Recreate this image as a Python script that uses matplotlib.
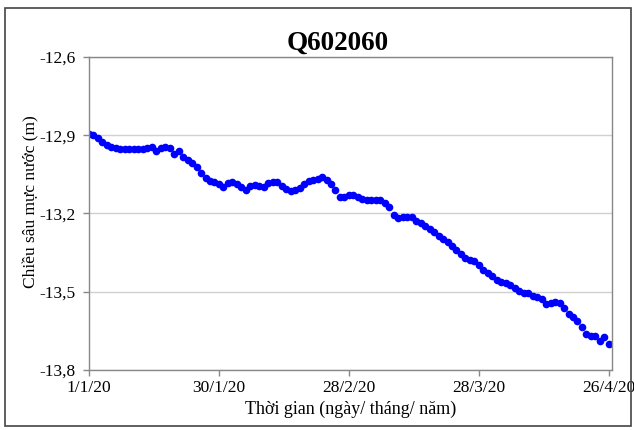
import matplotlib
matplotlib.use("Agg")
import matplotlib.pyplot as plt
import matplotlib.dates as mdates
import datetime as dt
from matplotlib.patches import Rectangle

start_date = dt.date(2020, 1, 1)
depth = [
    -12.895, -12.899, -12.911, -12.926, -12.937, -12.945, -12.949, -12.953, -12.953, -12.953,
    -12.953, -12.953, -12.953, -12.949, -12.945, -12.960, -12.949, -12.945, -12.949, -12.972,
    -12.960, -12.983, -12.995, -13.006, -13.022, -13.045, -13.064, -13.075, -13.079, -13.087,
    -13.098, -13.083, -13.079, -13.087, -13.098, -13.110, -13.095, -13.091, -13.095, -13.098,
    -13.083, -13.079, -13.079, -13.095, -13.106, -13.114, -13.110, -13.102, -13.087, -13.075,
    -13.072, -13.068, -13.060, -13.072, -13.087, -13.110, -13.137, -13.137, -13.129, -13.129,
    -13.137, -13.144, -13.148, -13.148, -13.148, -13.148, -13.160, -13.175, -13.206, -13.217,
    -13.213, -13.213, -13.213, -13.229, -13.236, -13.248, -13.259, -13.271, -13.286, -13.298,
    -13.309, -13.325, -13.340, -13.355, -13.371, -13.378, -13.382, -13.397, -13.417, -13.428,
    -13.440, -13.455, -13.463, -13.466, -13.474, -13.486, -13.497, -13.505, -13.505, -13.516,
    -13.520, -13.528, -13.547, -13.543, -13.539, -13.543, -13.562, -13.585, -13.597, -13.612,
    -13.635, -13.662, -13.670, -13.670, -13.689, -13.674, -13.700,
]
dates = [start_date + dt.timedelta(days=i) for i in range(len(depth))]

tick_dates = [dt.date(2020, 1, 1), dt.date(2020, 1, 30), dt.date(2020, 2, 28),
              dt.date(2020, 3, 28), dt.date(2020, 4, 26)]
tick_labels = ["1/1/20", "30/1/20", "28/2/20", "28/3/20", "26/4/20"]
y_ticks = [-13.8, -13.5, -13.2, -12.9, -12.6]
y_tick_labels = ["-13,8", "-13,5", "-13,2", "-12,9", "-12,6"]

title = "Q602060"
xlabel = "Thời gian (ngày/ tháng/ năm)"
ylabel = "Chiều sâu mực nước (m)"

plt.rcParams['font.family'] = ['Liberation Serif', 'DejaVu Serif']

fig = plt.figure(figsize=(6.34, 4.30), dpi=100)
ax = fig.add_axes([89/634, 60/430, 523/634, 313/430])

ax.plot(dates, depth, linestyle='none', marker='o', markersize=5.5,
        color='#0000FF', markeredgewidth=0)

ax.set_ylim(-13.8, -12.6)
ax.set_xlim(mdates.date2num(dt.datetime(2020, 1, 1)),
            mdates.date2num(dt.datetime(2020, 1, 1)) + 116.7)
ax.set_yticks(y_ticks)
ax.set_yticklabels(y_tick_labels, fontsize=12.5)
ax.set_xticks([mdates.date2num(d) for d in tick_dates])
ax.set_xticklabels(tick_labels, fontsize=12.5)

ax.grid(axis='y', color='#d0d0d0', linewidth=1)
ax.set_axisbelow(True)
for s in ax.spines.values():
    s.set_color('#888888')
    s.set_linewidth(1)
ax.tick_params(axis='y', direction='out', length=4.5, color='#888888', width=1, pad=5)
ax.tick_params(axis='x', direction='out', length=4.5, color='#888888', width=1, pad=2.5)

fig.text(338/634, (430-50)/430, title, fontsize=19.5, fontweight='bold',
         ha='center', va='baseline')
ax.set_xlabel(xlabel, fontsize=13)
ax.set_ylabel(ylabel, fontsize=12.5)
ax.xaxis.set_label_coords(0.5, (370-401)/313)
ax.yaxis.set_label_coords((39-89)/523, (370-202)/313)

fig.patches.append(Rectangle((5/634, 4/430), 626/634, 418/430, transform=fig.transFigure,
                             fill=False, edgecolor='#444444', linewidth=1.2, zorder=10))

fig.savefig("out.png", dpi=100)
